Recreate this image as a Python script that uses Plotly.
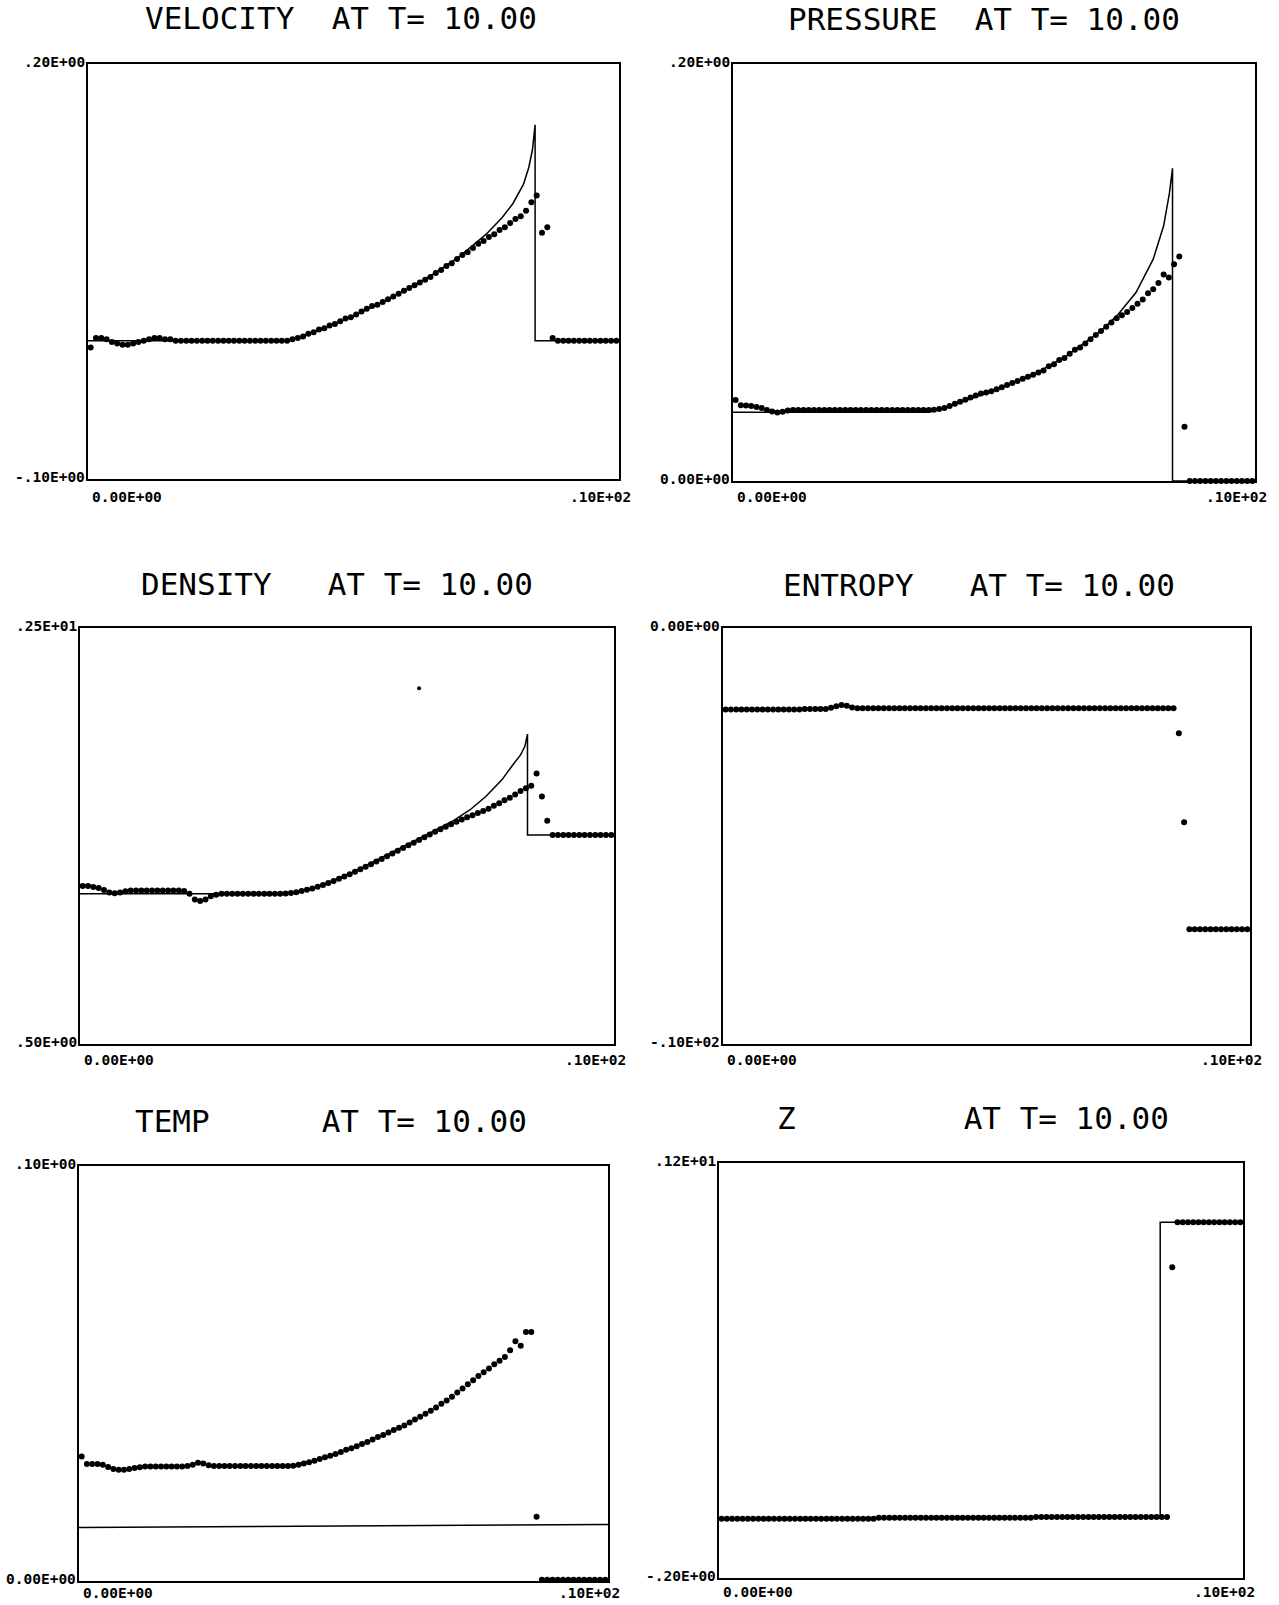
import plotly.graph_objects as go

# ---------------- data ----------------
X_CELLS = [0.05, 0.15, 0.25, 0.35, 0.45, 0.55, 0.65, 0.75, 0.85, 0.95,
           1.05, 1.15, 1.25, 1.35, 1.45, 1.55, 1.65, 1.75, 1.85, 1.95,
           2.05, 2.15, 2.25, 2.35, 2.45, 2.55, 2.65, 2.75, 2.85, 2.95,
           3.05, 3.15, 3.25, 3.35, 3.45, 3.55, 3.65, 3.75, 3.85, 3.95,
           4.05, 4.15, 4.25, 4.35, 4.45, 4.55, 4.65, 4.75, 4.85, 4.95,
           5.05, 5.15, 5.25, 5.35, 5.45, 5.55, 5.65, 5.75, 5.85, 5.95,
           6.05, 6.15, 6.25, 6.35, 6.45, 6.55, 6.65, 6.75, 6.85, 6.95,
           7.05, 7.15, 7.25, 7.35, 7.45, 7.55, 7.65, 7.75, 7.85, 7.95,
           8.05, 8.15, 8.25, 8.35, 8.45, 8.55, 8.65, 8.75, 8.85, 8.95,
           9.05, 9.15, 9.25, 9.35, 9.45, 9.55, 9.65, 9.75, 9.85, 9.95]

VEL_DOTS = [-0.005, 0.002, 0.002, 0.001, -0.001, -0.002, -0.003, -0.003, -0.002, -0.001,
            0.000, 0.001, 0.002, 0.002, 0.001, 0.001, 0.000, 0.000, 0.000, 0.000,
            0.000, 0.000, 0.000, 0.000, 0.000, 0.000, 0.000, 0.000, 0.000, 0.000,
            0.000, 0.000, 0.000, 0.000, 0.000, 0.000, 0.000, 0.000, 0.001, 0.002,
            0.003, 0.005, 0.006, 0.008, 0.009, 0.011, 0.012, 0.014, 0.016, 0.017,
            0.019, 0.021, 0.023, 0.025, 0.026, 0.028, 0.030, 0.032, 0.034, 0.036,
            0.038, 0.040, 0.042, 0.044, 0.046, 0.049, 0.051, 0.054, 0.056, 0.059,
            0.062, 0.064, 0.067, 0.070, 0.072, 0.075, 0.077, 0.080, 0.082, 0.085,
            0.088, 0.090, 0.094, 0.100, 0.105, 0.078, 0.082, 0.002, 0.000, 0.000,
            0.000, 0.000, 0.000, 0.000, 0.000, 0.000, 0.000, 0.000, 0.000, 0.000]
VEL_EXACT_X = [0.0, 3.76, 4.0, 4.5, 5.0, 5.5, 6.0, 6.5, 7.0, 7.5, 7.8, 8.0, 8.2, 8.3, 8.37, 8.42, 8.42, 10.0]
VEL_EXACT_Y = [0.0, 0.0, 0.003, 0.010, 0.018, 0.027, 0.037, 0.048, 0.061, 0.077, 0.089, 0.099, 0.113, 0.125, 0.138, 0.156, 0.0, 0.0]

PRES_DOTS = [0.0389, 0.0363, 0.0362, 0.0360, 0.0355, 0.0350, 0.0340, 0.0333, 0.0328, 0.0332,
             0.0338, 0.034, 0.034, 0.034, 0.034, 0.034, 0.034, 0.034, 0.034, 0.034,
             0.034, 0.034, 0.034, 0.034, 0.034, 0.034, 0.034, 0.034, 0.034, 0.034,
             0.034, 0.034, 0.034, 0.034, 0.034, 0.034, 0.034, 0.034, 0.0342, 0.0345,
             0.035, 0.036, 0.037, 0.038, 0.039, 0.040, 0.041, 0.042, 0.0425, 0.043,
             0.044, 0.045, 0.046, 0.047, 0.048, 0.049, 0.050, 0.051, 0.052, 0.053,
             0.055, 0.056, 0.058, 0.059, 0.061, 0.063, 0.064, 0.066, 0.068, 0.070,
             0.072, 0.074, 0.076, 0.078, 0.0795, 0.081, 0.083, 0.085, 0.087, 0.090,
             0.092, 0.095, 0.099, 0.0976, 0.104, 0.1077, 0.026, 0.0, 0.0, 0.0,
             0.0, 0.0, 0.0, 0.0, 0.0, 0.0, 0.0, 0.0, 0.0, 0.0]
PRES_EXACT_X = [0.0, 3.74, 4.0, 4.4, 5.07, 5.73, 6.39, 7.05, 7.38, 7.72, 8.05, 8.25, 8.36, 8.42, 8.42, 10.0]
PRES_EXACT_Y = [0.033, 0.033, 0.0345, 0.038, 0.044, 0.0507, 0.060, 0.072, 0.080, 0.0904, 0.1064, 0.1224, 0.138, 0.150, 0.0, 0.0]

DENS_DOTS = [1.26, 1.26, 1.255, 1.25, 1.24, 1.228, 1.225, 1.228, 1.234, 1.238,
             1.238, 1.238, 1.238, 1.238, 1.238, 1.238, 1.238, 1.238, 1.238, 1.235,
             1.222, 1.195, 1.187, 1.195, 1.21, 1.218, 1.222, 1.222, 1.222, 1.222,
             1.222, 1.222, 1.222, 1.222, 1.222, 1.222, 1.222, 1.222, 1.223, 1.226,
             1.230, 1.235, 1.241, 1.248, 1.256, 1.265, 1.274, 1.284, 1.294, 1.305,
             1.316, 1.328, 1.340, 1.352, 1.364, 1.377, 1.390, 1.403, 1.416, 1.429,
             1.442, 1.455, 1.468, 1.481, 1.494, 1.507, 1.520, 1.533, 1.545, 1.557,
             1.568, 1.579, 1.590, 1.600, 1.610, 1.620, 1.631, 1.645, 1.658, 1.672,
             1.684, 1.700, 1.716, 1.730, 1.742, 1.80, 1.69, 1.573, 1.505, 1.505,
             1.505, 1.505, 1.505, 1.505, 1.505, 1.505, 1.505, 1.505, 1.505, 1.505]
DENS_EXACT_X = [0.0, 3.79, 4.0, 4.46, 5.13, 5.81, 6.48, 7.0, 7.3, 7.6, 7.9, 8.1, 8.25, 8.33, 8.38, 8.38, 10.0]
DENS_EXACT_Y = [1.222, 1.222, 1.228, 1.256, 1.328, 1.416, 1.505, 1.575, 1.625, 1.69, 1.77, 1.84, 1.89, 1.93, 1.99, 1.505, 1.505]
DENS_STRAY_X = [6.35]
DENS_STRAY_Y = [2.21]

ENTR_DOTS = [-1.96, -1.96, -1.96, -1.96, -1.96, -1.96, -1.96, -1.96, -1.96, -1.96,
             -1.96, -1.96, -1.96, -1.96, -1.96, -1.95, -1.95, -1.95, -1.95, -1.95,
             -1.92, -1.88, -1.85, -1.87, -1.91, -1.93, -1.93, -1.93, -1.93, -1.93,
             -1.93, -1.93, -1.93, -1.93, -1.93, -1.93, -1.93, -1.93, -1.93, -1.93,
             -1.93, -1.93, -1.93, -1.93, -1.93, -1.93, -1.93, -1.93, -1.93, -1.93,
             -1.93, -1.93, -1.93, -1.93, -1.93, -1.93, -1.93, -1.93, -1.93, -1.93,
             -1.93, -1.93, -1.93, -1.93, -1.93, -1.93, -1.93, -1.93, -1.93, -1.93,
             -1.93, -1.93, -1.93, -1.93, -1.93, -1.93, -1.93, -1.93, -1.93, -1.93,
             -1.93, -1.93, -1.93, -1.93, -1.93, -1.93, -2.53, -4.67, -7.24, -7.24,
             -7.24, -7.24, -7.24, -7.24, -7.24, -7.24, -7.24, -7.24, -7.24, -7.24]

TEMP_DOTS = [0.0300, 0.0282, 0.0282, 0.0282, 0.0280, 0.0275, 0.0270, 0.0268, 0.0268, 0.0270,
             0.0272, 0.0274, 0.0276, 0.0276, 0.0276, 0.0276, 0.0276, 0.0276, 0.0276, 0.0276,
             0.0277, 0.0280, 0.0285, 0.0283, 0.0279, 0.0277, 0.0277, 0.0277, 0.0277, 0.0277,
             0.0277, 0.0277, 0.0277, 0.0277, 0.0277, 0.0277, 0.0277, 0.0277, 0.0277, 0.0277,
             0.0278, 0.0280, 0.0283, 0.0286, 0.0290, 0.0294, 0.0298, 0.0302, 0.0306, 0.0311,
             0.0316, 0.0320, 0.0325, 0.0330, 0.0335, 0.0341, 0.0347, 0.0352, 0.0358, 0.0364,
             0.0369, 0.0375, 0.0382, 0.0389, 0.0396, 0.0403, 0.0410, 0.0418, 0.0427, 0.0435,
             0.0444, 0.0454, 0.0464, 0.0474, 0.0484, 0.0494, 0.0503, 0.0512, 0.0522, 0.0531,
             0.0540, 0.0556, 0.0578, 0.0567, 0.0600, 0.0600, 0.0155, 0.0003, 0.0003, 0.0003,
             0.0003, 0.0003, 0.0003, 0.0003, 0.0003, 0.0003, 0.0003, 0.0003, 0.0003, 0.0003]
TEMP_EXACT_X = [0.0, 10.0]
TEMP_EXACT_Y = [0.0129, 0.0136]

Z_DOTS = [0.000, 0.000, 0.000, 0.000, 0.000, 0.000, 0.000, 0.000, 0.000, 0.000,
          0.000, 0.000, 0.000, 0.000, 0.000, 0.000, 0.000, 0.000, 0.000, 0.000,
          0.000, 0.000, 0.000, 0.000, 0.000, 0.000, 0.000, 0.000, 0.000, 0.000,
          0.003, 0.003, 0.003, 0.003, 0.003, 0.003, 0.003, 0.003, 0.003, 0.003,
          0.003, 0.003, 0.003, 0.003, 0.003, 0.003, 0.003, 0.003, 0.003, 0.003,
          0.003, 0.003, 0.003, 0.003, 0.003, 0.003, 0.003, 0.003, 0.003, 0.003,
          0.006, 0.006, 0.006, 0.006, 0.006, 0.006, 0.006, 0.006, 0.006, 0.006,
          0.006, 0.006, 0.006, 0.006, 0.006, 0.006, 0.006, 0.006, 0.006, 0.006,
          0.006, 0.006, 0.006, 0.006, 0.006, 0.006, 0.848, 1.0, 1.0, 1.0,
          1.0, 1.0, 1.0, 1.0, 1.0, 1.0, 1.0, 1.0, 1.0, 1.0]
Z_EXACT_X = [0.0, 8.42, 8.42, 10.0]
Z_EXACT_Y = [0.0, 0.006, 1.0, 1.0]

NAMES = ["VELOCITY", "PRESSURE", "DENSITY", "ENTROPY", "TEMP", "Z"]
TIME_LABEL = "AT T= 10.00"
X_RANGE = [0.0, 10.0]
X_TICK_LABELS = ["0.00E+00", ".10E+02"]
Y_RANGES = [[-0.1, 0.2], [0.0, 0.2], [0.5, 2.5], [-10.0, 0.0], [0.0, 0.1], [-0.2, 1.2]]
Y_TICK_LABELS = [["-.10E+00", ".20E+00"], ["0.00E+00", ".20E+00"], [".50E+00", ".25E+01"],
                 ["-.10E+02", "0.00E+00"], ["0.00E+00", ".10E+00"], ["-.20E+00", ".12E+01"]]

DOTS = [VEL_DOTS, PRES_DOTS, DENS_DOTS, ENTR_DOTS, TEMP_DOTS, Z_DOTS]
EXACT = [(VEL_EXACT_X, VEL_EXACT_Y), (PRES_EXACT_X, PRES_EXACT_Y), (DENS_EXACT_X, DENS_EXACT_Y),
         None, (TEMP_EXACT_X, TEMP_EXACT_Y), (Z_EXACT_X, Z_EXACT_Y)]

# ---------------- layout (pixel boxes: left, right, top, bottom) ----------------
W, H = 1279, 1605
BOXES = [(88, 619, 64, 479), (733, 1255, 64, 481),
         (80, 614, 628, 1044), (723, 1250, 628, 1044),
         (79, 608, 1166, 1581), (719, 1243, 1163, 1578)]
TITLE_POS = [(143, 18), (786, 19), (139, 584), (781, 585), (133, 1121), (775, 1118)]
XLABEL_SHIFT = [-8, -6, -6, -6, -2, -4]

NB = "\u00a0"
fig = go.Figure()
layout = dict(width=W, height=H, margin=dict(l=0, r=0, t=0, b=0),
              paper_bgcolor="white", plot_bgcolor="white", showlegend=False)
annotations = []
tick_font = dict(family="DejaVu Sans Mono", size=14.5, color="black", weight="bold")
title_font = dict(family="DejaVu Sans Mono", size=31, color="black")

for k in range(6):
    L, R, T, B = BOXES[k]
    ax = "" if k == 0 else str(k + 1)
    xa, ya = "x" + ax, "y" + ax
    common = dict(showline=True, mirror=True, linecolor="black", linewidth=2,
                  showgrid=False, zeroline=False, showticklabels=False, ticks="",
                  fixedrange=True)
    layout["xaxis" + ax] = dict(domain=[L / W, R / W], range=X_RANGE, anchor=ya, **common)
    layout["yaxis" + ax] = dict(domain=[1 - B / H, 1 - T / H], range=Y_RANGES[k], anchor=xa, **common)

    if EXACT[k] is not None:
        ex, ey = EXACT[k]
        fig.add_trace(go.Scatter(x=ex, y=ey, mode="lines", xaxis=xa, yaxis=ya,
                                 line=dict(color="black", width=1.5), cliponaxis=False,
                                 hoverinfo="skip"))
    fig.add_trace(go.Scatter(x=X_CELLS, y=DOTS[k], mode="markers", xaxis=xa, yaxis=ya,
                             marker=dict(color="black", size=6, line=dict(width=0)),
                             cliponaxis=False))
    if k == 2:
        fig.add_trace(go.Scatter(x=DENS_STRAY_X, y=DENS_STRAY_Y, mode="markers", xaxis=xa, yaxis=ya,
                                 marker=dict(color="black", size=4), cliponaxis=False))

    y0, y1 = Y_RANGES[k]
    ys = XLABEL_SHIFT[k]
    annotations += [
        dict(x=X_RANGE[0], y=y0, xref=xa, yref=ya, text=X_TICK_LABELS[0], showarrow=False,
             xanchor="left", yanchor="top", xshift=2, yshift=ys, font=tick_font),
        dict(x=X_RANGE[1], y=y0, xref=xa, yref=ya, text=X_TICK_LABELS[1], showarrow=False,
             xanchor="right", yanchor="top", xshift=14, yshift=ys, font=tick_font),
        dict(x=X_RANGE[0], y=y0, xref=xa, yref=ya, text=Y_TICK_LABELS[k][0], showarrow=False,
             xanchor="right", yanchor="middle", xshift=-1, yshift=2, font=tick_font),
        dict(x=X_RANGE[0], y=y1, xref=xa, yref=ya, text=Y_TICK_LABELS[k][1], showarrow=False,
             xanchor="right", yanchor="middle", xshift=-1, yshift=2, font=tick_font),
    ]
    tx, ty = TITLE_POS[k]
    title_text = NAMES[k].ljust(10).replace(" ", NB) + TIME_LABEL.replace(" ", NB)
    annotations.append(dict(x=tx / W, y=1 - ty / H, xref="paper", yref="paper", text=title_text,
                            showarrow=False, xanchor="left", yanchor="middle", font=title_font))

layout["annotations"] = annotations
fig.update_layout(**layout)
fig.write_html("out.html")
